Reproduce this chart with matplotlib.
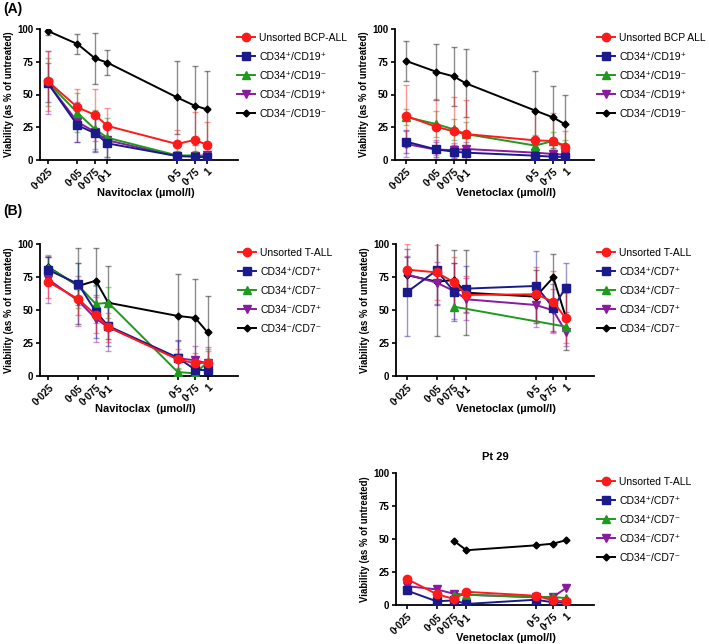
import numpy as np
import matplotlib
matplotlib.use('Agg')
import matplotlib.pyplot as plt

nan = np.nan
doses = [0.025, 0.05, 0.075, 0.1, 0.5, 0.75, 1]
dose_labels = ['0·025', '0·05', '0·075', '0·1', '0·5', '0·75', '1']
y_ticks = [0, 25, 50, 75, 100]

bcp_labels_nav = ['Unsorted BCP-ALL', 'CD34⁺/CD19⁺', 'CD34⁺/CD19⁻', 'CD34⁻/CD19⁺', 'CD34⁻/CD19⁻']
bcp_labels_ven = ['Unsorted BCP ALL', 'CD34⁺/CD19⁺', 'CD34⁺/CD19⁻', 'CD34⁻/CD19⁺', 'CD34⁻/CD19⁻']
t_labels = ['Unsorted T-ALL', 'CD34⁺/CD7⁺', 'CD34⁺/CD7⁻', 'CD34⁻/CD7⁺', 'CD34⁻/CD7⁻']

# (A) Navitoclax, BCP-ALL: means and SD
a_nav_unsorted = [60.3, 40.2, 34.4, 26.0, 12.2, 15.3, 11.7]
a_nav_unsorted_sd = [23, 14, 20, 14, 11, 21, 17]
a_nav_pp = [59.0, 26.5, 20.4, 12.7, 3.0, 2.5, 2.0]
a_nav_pp_sd = [15, 13, 14, 12, 2, 2, 2]
a_nav_pm = [59.5, 36.0, 23.5, 17.0, 3.5, 3.5, 3.0]
a_nav_pm_sd = [18, 15, 15, 15, 3, 3, 3]
a_nav_mp = [59.0, 29.0, 21.5, 15.0, 3.0, 3.0, 3.5]
a_nav_mp_sd = [24, 15, 15, 13, 3, 3, 3]
a_nav_mm = [98.6, 88.5, 77.6, 74.3, 47.8, 41.5, 38.7]
a_nav_mm_sd = [3, 7.5, 19.5, 9.7, 28, 30, 29.5]

# (A) Venetoclax, BCP-ALL
a_ven_unsorted = [33.6, 25.4, 21.9, 19.8, 15.0, 14.5, 10.0]
a_ven_unsorted_sd = [24, 21.4, 26, 26, 22, 21, 12]
a_ven_pp = [14.0, 8.1, 6.4, 5.6, 3.3, 2.5, 2.3]
a_ven_pp_sd = [9, 6, 5, 5, 3, 2, 2]
a_ven_pm = [32.8, 27.5, 23.4, 19.8, 11.0, 14.5, 11.0]
a_ven_pm_sd = [6, 10, 8, 9, 8, 7, 4]
a_ven_mp = [12.2, 7.9, 7.6, 8.4, 5.6, 4.6, 4.0]
a_ven_mp_sd = [10, 7, 5, 5, 4, 3, 3]
a_ven_mm = [75.6, 67.4, 63.9, 58.5, 37.7, 32.6, 27.2]
a_ven_mm_sd = [15, 21.4, 22.6, 26, 30, 23.6, 22.4]

# (B) Navitoclax, T-ALL
b_nav_unsorted = [71.2, 58.3, 46.2, 37.1, 12.6, 9.6, 10.1]
b_nav_unsorted_sd = [12.4, 12, 14, 11, 7.6, 7.6, 9]
b_nav_pp = [80.3, 69.7, 48.7, 37.9, 13.9, 4.8, 4.3]
b_nav_pp_sd = [10, 15.7, 20, 15, 13, 5, 4]
b_nav_pm = [82.0, 68.7, 54.5, 55.6, 3.0, 2.0, 10.5]
b_nav_pm_sd = [10, 17, 14, 12, 3, 2, 10]
b_nav_mp = [73.2, 57.0, 43.4, 37.0, 13.4, 11.9, 9.6]
b_nav_mp_sd = [18, 19, 18, 18, 13, 11, 12]
b_nav_mm = [82.5, 68.2, 72.2, 55.5, 45.5, 44.0, 33.0]
b_nav_mm_sd = [8, 29, 24.5, 27.5, 32, 29.5, 27.5]

# (B) Venetoclax, T-ALL
b_ven_unsorted = [80.6, 78.5, 71.0, 61.4, 61.9, 56.3, 43.7]
b_ven_unsorted_sd = [19.4, 21, 19.4, 14, 20.4, 23.5, 19]
b_ven_pp = [63.4, 80.0, 63.9, 66.2, 68.2, 51.8, 66.9]
b_ven_pp_sd = [33, 26, 22, 17.4, 26.8, 18, 18.5]
b_ven_pm = [nan, nan, 52.5, nan, nan, nan, 37.4]
b_ven_pm_sd = [nan, nan, nan, nan, nan, nan, nan]
b_ven_mp = [77.0, 70.7, 64.4, 58.1, 53.8, 49.7, 33.6]
b_ven_mp_sd = [14, 16, 21, 16, 17, 16, 11]
b_ven_mm = [76.5, 71.5, 72.7, 63.1, 60.1, 74.7, 45.0]
b_ven_mm_sd = [14, 41, 23, 32, 20, 17.5, 25]

# Pt 29 Venetoclax, T-ALL (single patient, no error bars)
c_ven_unsorted = [19.8, 8.3, 4.5, 10.0, 7.0, 3.5, 2.8]
c_ven_pp = [11.0, 2.8, 3.5, 0.8, 4.0, 2.0, 1.8]
c_ven_pm = [nan, nan, 7.3, 7.8, 6.0, 6.0, 5.3]
c_ven_mp = [14.3, 11.8, 8.5, 7.8, 5.8, 6.3, 12.6]
c_ven_mm = [nan, nan, 48.5, 41.5, 45.2, 46.5, 49.0]

colors = ['#ff1a1a', '#1a1a8c', '#1e9a1e', '#8a1a9e', '#000000']
markers = ['o', 's', '^', 'v', 'D']
msizes = [6, 5.5, 5.5, 5.5, 3.5]

plt.rcParams['font.family'] = ['Liberation Sans', 'DejaVu Sans']

fig = plt.figure(figsize=(7.09, 6.44), dpi=100)
W, H = 709, 644


def make_ax(x0, x1, ytop, ybot):
    return fig.add_axes([x0 / W, 1 - ybot / H, (x1 - x0) / W, (ybot - ytop) / H])


def draw(ax, means, sds, labels, xlab, xlim, leg_x, leg_y, xlab_shift):
    order = [4, 3, 2, 1, 0]
    handles = [None] * 5
    for i in order:
        m = np.array(means[i], dtype=float)
        x = np.array(doses, dtype=float)
        ok = ~np.isnan(m)
        if sds is not None:
            s = np.array(sds[i], dtype=float)
            oks = ok & ~np.isnan(s)
            ax.errorbar(x[oks], m[oks], yerr=s[oks], fmt='none', ecolor=colors[i],
                        alpha=0.45, elinewidth=1.0, capsize=2.5, capthick=1.0, zorder=2)
        h, = ax.plot(x[ok], m[ok], color=colors[i], marker=markers[i],
                     markersize=msizes[i], linewidth=1.4, zorder=3 + (5 - i) * 0.1,
                     label=labels[i])
        handles[i] = h
    ax.set_xscale('log')
    ax.set_xlim(*xlim)
    ax.set_ylim(0, 100)
    ax.set_xticks(doses)
    ax.set_xticklabels(dose_labels, rotation=45, ha='right', rotation_mode='anchor',
                       fontsize=7.1, fontweight='bold')
    ax.minorticks_off()
    ax.set_yticks(y_ticks)
    ax.set_yticklabels([str(v) for v in y_ticks], fontsize=7, fontweight='bold')
    ax.tick_params(axis='both', direction='out', length=3, width=1.2, pad=2)
    for sp in ['top', 'right']:
        ax.spines[sp].set_visible(False)
    for sp in ['left', 'bottom']:
        ax.spines[sp].set_linewidth(1.3)
    h_px = ax.get_position().height * H
    w_px = ax.get_position().width * W
    ax.set_xlabel(xlab, fontsize=7.9, fontweight='bold', va='center')
    ax.xaxis.set_label_coords(0.5 + xlab_shift / w_px, -33 / h_px)
    ax.set_ylabel('Viability (as % of untreated)', fontsize=6.9, fontweight='bold',
                  va='center')
    ax.yaxis.set_label_coords(-31 / w_px, 0.5)
    fig.legend(handles, labels, loc='upper left', bbox_to_anchor=(leg_x / W, 1 - leg_y / H),
               frameon=False, fontsize=7.5, handlelength=1.7, handletextpad=0.45,
               labelspacing=0.86, borderaxespad=0, borderpad=0)


ax1 = make_ax(40, 238, 29, 160)
draw(ax1, [a_nav_unsorted, a_nav_pp, a_nav_pm, a_nav_mp, a_nav_mm],
     [a_nav_unsorted_sd, a_nav_pp_sd, a_nav_pm_sd, a_nav_mp_sd, a_nav_mm_sd],
     bcp_labels_nav, 'Navitoclax (µmol/l)', (0.021, 2.05), 237, 33, 7)

ax2 = make_ax(395, 594, 29, 160)
draw(ax2, [a_ven_unsorted, a_ven_pp, a_ven_pm, a_ven_mp, a_ven_mm],
     [a_ven_unsorted_sd, a_ven_pp_sd, a_ven_pm_sd, a_ven_mp_sd, a_ven_mm_sd],
     bcp_labels_ven, 'Venetoclax (µmol/l)', (0.0193, 1.95), 597, 33, 11)

ax3 = make_ax(40, 238, 244, 376)
draw(ax3, [b_nav_unsorted, b_nav_pp, b_nav_pm, b_nav_mp, b_nav_mm],
     [b_nav_unsorted_sd, b_nav_pp_sd, b_nav_pm_sd, b_nav_mp_sd, b_nav_mm_sd],
     t_labels, 'Navitoclax  (µmol/l)', (0.0206, 2.02), 238, 248, 6)

ax4 = make_ax(396, 594, 244, 376)
draw(ax4, [b_ven_unsorted, b_ven_pp, b_ven_pm, b_ven_mp, b_ven_mm],
     [b_ven_unsorted_sd, b_ven_pp_sd, b_ven_pm_sd, b_ven_mp_sd, b_ven_mm_sd],
     t_labels, 'Venetoclax (µmol/l)', (0.0195, 1.93), 597, 248, 11)

ax5 = make_ax(396, 594, 473, 605)
draw(ax5, [c_ven_unsorted, c_ven_pp, c_ven_pm, c_ven_mp, c_ven_mm], None,
     t_labels, 'Venetoclax (µmol/l)', (0.0195, 1.93), 597, 477, 11)
ax5.set_title('Pt 29', fontsize=8, fontweight='bold', pad=9)

fig.text(3 / W, 1 - 8.5 / H, '(A)', fontsize=10, fontweight='bold', va='center', ha='left')
fig.text(3 / W, 1 - 211 / H, '(B)', fontsize=10, fontweight='bold', va='center', ha='left')

fig.savefig('out.png', dpi=100)
